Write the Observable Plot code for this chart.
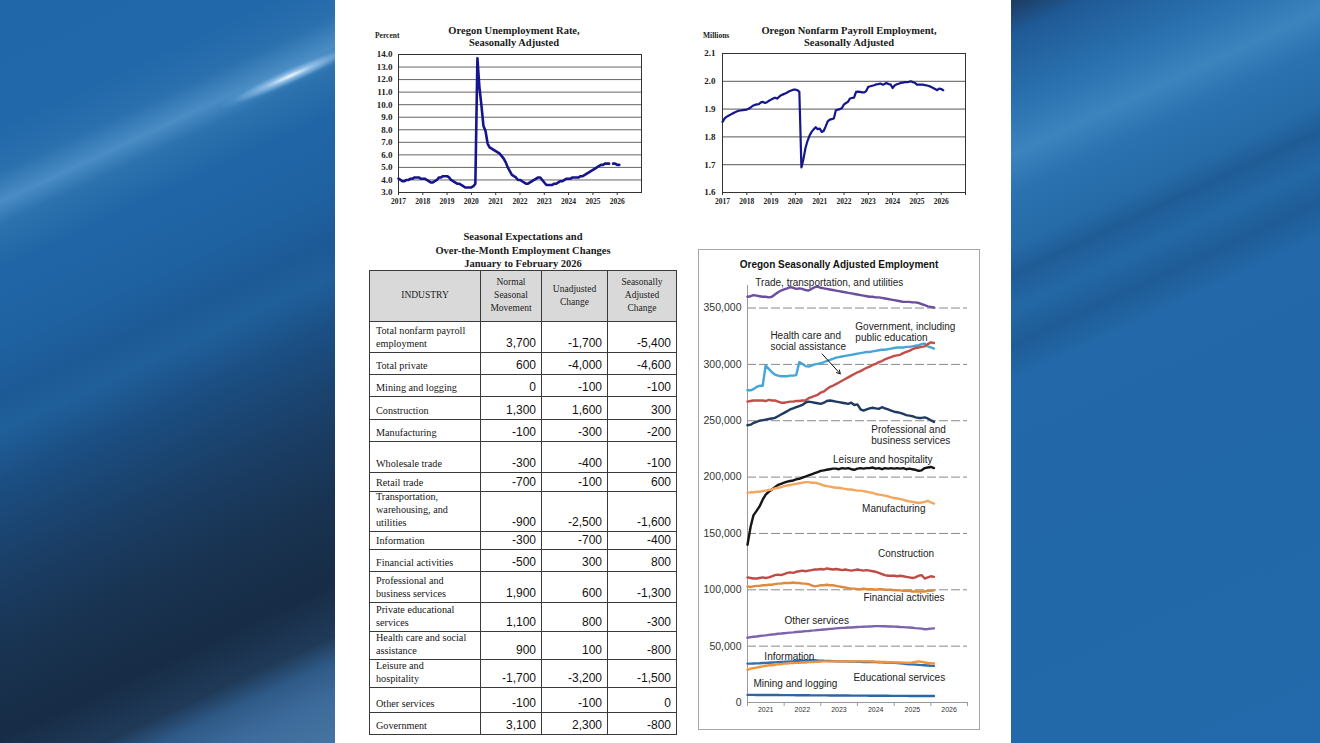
<!DOCTYPE html>
<html>
<head>
<meta charset="utf-8">
<script src="https://cdn.jsdelivr.net/npm/d3@7"></script>
<script src="https://cdn.jsdelivr.net/npm/@observablehq/plot@0.6"></script>
<style>
html, body { margin:0; padding:0; width:1320px; height:743px; overflow:hidden; }
body { position:relative; background:#2168aa; font-family:"Liberation Serif", serif; }
.abs { position:absolute; }
#bgL { left:0; top:0; width:335px; height:743px;
  background: linear-gradient(155deg, #2067a9 0%, #2168aa 14%, #2a70ae 19%, #4a8cc4 22.5%, #2c72ae 25%, #2066a6 30%, #1f62a2 38%, #1c5a96 44%, #1f5f9a 48%, #1b4e82 54%, #1a4470 60%, #1a3b60 66%, #18324f 74%, #172c46 82%, #1f3a58 88%, #2f5a88 91%, #3d6c9c 95%, #4574a2 100%); }
#bgR { left:1011px; top:0; width:309px; height:743px;
  background: linear-gradient(155deg, #1c3b60 0%, #1f5a96 4%, #2a72b0 12%, #3c84be 17.5%, #2a72b0 22%, #256ba8 28%, #1f5c96 31%, #2368a6 35%, #1e5c96 39%, #2368a8 43%, #2168a8 70%, #226aab 100%); }
#flare { left:215px; top:68px; width:150px; height:16px; transform:rotate(-24deg);
  background: radial-gradient(ellipse at center, rgba(255,255,255,0.95) 0%, rgba(190,225,255,0.6) 25%, rgba(120,180,230,0.15) 60%, rgba(0,0,0,0) 75%); }
#page { left:335px; top:0; width:676px; height:743px; background:#fff; }
.ttl { font-family:"Liberation Serif", serif; font-weight:bold; font-size:10.5px; color:#1a1a1a; text-align:center; line-height:11.8px; white-space:nowrap; }
.unit { font-family:"Liberation Serif", serif; font-weight:bold; font-size:7.5px; color:#222; }
#table { left:369px; top:270px; width:308px; display:grid; }
.cell { box-sizing:border-box; border-right:1.5px solid #3a3a3a; border-bottom:1.5px solid #3a3a3a; display:flex; }
.hd { background:#d9d9d9; border-top:1.5px solid #3a3a3a; align-items:center; justify-content:center; text-align:center; font-size:9.5px; line-height:13.2px; color:#222; }
.lab { border-left:1.5px solid #3a3a3a; align-items:flex-end; padding:0 2px 1.5px 6px; font-size:10.2px; line-height:13.2px; color:#151515; white-space:pre-line; }
.num { align-items:flex-end; justify-content:flex-end; padding:0 5px 1.5px 0; font-family:"Liberation Sans", Arial, sans-serif; font-size:12px; line-height:13px; color:#111; }
#box3 { left:698px; top:249px; width:280px; height:479px; border:1px solid #a6a6a6; }
.ttl3 { font-family:"Liberation Sans", Arial, sans-serif; font-weight:bold; font-size:10px; color:#111; white-space:nowrap; }
</style>
</head>
<body>
<div id="bgL" class="abs"></div>
<div id="bgR" class="abs"></div>
<div id="flare" class="abs"></div>
<div id="page" class="abs"></div>

<div class="abs ttl" style="left:414px; top:25px; width:200px;">Oregon Unemployment Rate,<br>Seasonally Adjusted</div>
<div class="abs unit" style="left:375px; top:31px;">Percent</div>
<div class="abs ttl" style="left:749px; top:25px; width:200px;">Oregon Nonfarm Payroll Employment,<br>Seasonally Adjusted</div>
<div class="abs unit" style="left:703px; top:31px;">Millions</div>
<div class="abs ttl" style="left:423px; top:230px; width:200px; line-height:13.7px;">Seasonal Expectations and<br>Over-the-Month Employment Changes<br>January to February 2026</div>

<div id="chart1" class="abs" style="left:360px; top:50px;"></div>
<div id="chart2" class="abs" style="left:690px; top:49px;"></div>
<div id="table" class="abs"></div>
<div id="box3" class="abs"></div>
<div class="abs ttl3" style="left:739px; top:259px; width:200px; text-align:center;">Oregon Seasonally Adjusted Employment</div>
<div id="chart3" class="abs" style="left:698px; top:249px;"></div>

<script>
// ---------------- DATA ----------------
// Oregon unemployment rate, seasonally adjusted, monthly Jan 2017 - Feb 2026 (Oct 2025 not published)
const unemploymentRate = [
  4.1, 4.0, 3.9, 3.9, 4.0, 4.0, 4.1, 4.1, 4.2, 4.2, 4.2, 4.1,
  4.1, 4.1, 4.0, 3.9, 3.8, 3.8, 3.9, 4.0, 4.2, 4.2, 4.3, 4.3,
  4.3, 4.2, 4.0, 3.9, 3.8, 3.7, 3.7, 3.6, 3.5, 3.4, 3.4, 3.4,
  3.4, 3.5, 3.7, 13.7, 11.4, 9.9, 8.3, 7.9, 6.9, 6.6, 6.5, 6.4,
  6.3, 6.2, 6.1, 5.9, 5.7, 5.4, 5.0, 4.7, 4.4, 4.3, 4.2, 4.0,
  4.0, 3.9, 3.8, 3.7, 3.7, 3.8, 3.9, 4.0, 4.1, 4.2, 4.2, 4.0,
  3.8, 3.6, 3.6, 3.6, 3.6, 3.7, 3.7, 3.8, 3.9, 3.9, 4.0, 4.1,
  4.1, 4.1, 4.2, 4.2, 4.2, 4.2, 4.3, 4.3, 4.4, 4.5, 4.6, 4.7,
  4.8, 4.9, 5.0, 5.1, 5.2, 5.2, 5.3, 5.3, 5.3, null, 5.3, 5.3,
  5.2, 5.2
];
// Oregon nonfarm payroll employment (millions), monthly Jan 2017 - Feb 2026
const payrollMillions = [
  1.854, 1.866, 1.872, 1.876, 1.880, 1.884, 1.888, 1.891, 1.894, 1.895, 1.896, 1.897,
  1.898, 1.902, 1.906, 1.912, 1.915, 1.917, 1.918, 1.924, 1.926, 1.922, 1.925, 1.930,
  1.934, 1.938, 1.941, 1.938, 1.944, 1.950, 1.953, 1.956, 1.960, 1.964, 1.967, 1.970,
  1.970, 1.968, 1.962, 1.690, 1.720, 1.760, 1.785, 1.805, 1.818, 1.827, 1.835, 1.828,
  1.830, 1.818, 1.821, 1.838, 1.856, 1.862, 1.864, 1.866, 1.896, 1.898, 1.900, 1.904,
  1.917, 1.922, 1.926, 1.938, 1.940, 1.941, 1.962, 1.963, 1.962, 1.960, 1.960, 1.965,
  1.980, 1.982, 1.984, 1.986, 1.989, 1.990, 1.992, 1.988, 1.990, 1.994, 1.990, 1.989,
  1.976, 1.985, 1.989, 1.991, 1.994, 1.995, 1.997, 1.997, 1.998, 2.000, 1.997, 1.995,
  1.988, 1.988, 1.988, 1.988, 1.986, 1.985, 1.983, 1.980, 1.976, 1.972, 1.968, 1.974,
  1.972, 1.968
];
const urTicks = [3, 4, 5, 6, 7, 8, 9, 10, 11, 12, 13, 14];
const payTicks = [1.6, 1.7, 1.8, 1.9, 2.0, 2.1];
const years1 = [2017, 2018, 2019, 2020, 2021, 2022, 2023, 2024, 2025, 2026];

// Table
const tableHeader = ["INDUSTRY", "Normal\nSeasonal\nMovement", "Unadjusted\nChange", "Seasonally\nAdjusted\nChange"];
const industries = [
  "Total nonfarm payroll\nemployment", "Total private", "Mining and logging", "Construction", "Manufacturing",
  "Wholesale trade", "Retail trade", "Transportation,\nwarehousing, and\nutilities", "Information",
  "Financial activities", "Professional and\nbusiness services", "Private educational\nservices",
  "Health care and social\nassistance", "Leisure and\nhospitality", "Other services", "Government"
];
const normalSeasonal = [3700, 600, 0, 1300, -100, -300, -700, -900, -300, -500, 1900, 1100, 900, -1700, -100, 3100];
const unadjustedChange = [-1700, -4000, -100, 1600, -300, -400, -100, -2500, -700, 300, 600, 800, 100, -3200, -100, 2300];
const seasonallyAdjustedChange = [-5400, -4600, -100, 300, -200, -100, 600, -1600, -400, 800, -1300, -300, -800, -1500, 0, -800];

// Oregon seasonally adjusted employment by industry (thousands), monthly Jan 2021 - Feb 2026
const tradeTransUtil = [
  360, 360.5, 361.5, 361, 360.5, 360, 360, 359.5, 360, 362, 364, 365.5,
  366.5, 367.5, 368.5, 368, 367, 367.5, 367, 366, 365.5, 367, 368.5, 369,
  368, 367.5, 367, 366.5, 366, 365.5, 365, 364.5, 364, 363.5, 363, 362.5,
  362, 361.5, 361, 360.5, 360, 360, 359.5, 359.5, 359, 358.5, 358, 357.5,
  357, 356.5, 356, 355.5, 355.5, 355.5, 355, 355, 354.5, 353.5, 352.5, 351.5,
  351, 350.5
];
const government = [
  277, 277, 278, 280, 281, 281, 299, 296, 293, 291, 290, 289.5,
  289.5, 289.5, 290, 290, 290.5, 302, 300.5, 298.5, 298, 299, 300, 300.5,
  301, 302, 303, 304, 305, 306, 306.5, 307, 307.5, 308, 308.5, 309,
  309.5, 310, 310.5, 311, 311, 311.5, 312, 312.5, 313, 313, 313.5, 314,
  314.5, 315, 315, 315, 315.5, 315.5, 316, 316.5, 317, 318, 318.5, 316,
  315, 314
];
const healthCare = [
  267, 267.5, 268, 268, 268, 268, 267.5, 268.5, 268, 268, 267, 266,
  266, 266.5, 267, 267, 267.5, 267.5, 268, 268, 270, 271, 272, 273,
  275, 276, 278, 280, 281, 282.5, 284, 285.5, 287, 288.5, 290, 291.5,
  293, 294, 295.5, 297, 298, 299.5, 300.5, 302, 303, 304.5, 305.5, 306.5,
  307.5, 308, 308.5, 310, 311, 312, 313.5, 314.5, 315, 315.5, 316, 318,
  319.5, 319
];
const professionalBusiness = [
  246, 246.5, 248, 249, 250, 250.5, 251, 251.5, 252, 252.5, 254, 255.5,
  257, 258.5, 260, 261, 262, 263, 264, 266, 267, 266.5, 266, 265.5,
  265, 266, 267.5, 268, 267.5, 267, 266.5, 266, 265.5, 265, 266, 264,
  264.5, 260, 259, 260, 261, 261.5, 261, 260.5, 262, 261, 260, 259,
  258, 257.5, 257, 256, 255, 254.5, 254, 253, 252.5, 252.5, 253, 252,
  250.5, 249
];
const leisureHospitality = [
  140, 156, 166, 170, 174, 180, 184.5, 187, 189, 191, 193, 194,
  195, 196, 196.5, 197, 198, 198.5, 199.5, 200.5, 201.5, 202.5, 203.5, 204.5,
  205.5, 206, 206.5, 207, 207.5, 207.5, 207, 208, 207.5, 208, 207, 206.5,
  207.5, 208, 207.5, 208, 208, 208.5, 207.5, 208, 207, 208, 207.5, 208,
  207.5, 208, 207.5, 208, 207, 207.5, 207, 206.5, 205.5, 206, 208, 208.5,
  209, 208
];
const manufacturing = [
  186, 186.5, 186.5, 187, 187, 187.5, 188, 188.5, 189, 190, 190.5, 191,
  192, 192.5, 193, 193.5, 194, 194.5, 195, 195.5, 195.5, 195, 195, 194.5,
  193.5, 192.5, 192, 191.5, 191, 190.5, 190.5, 190, 189.5, 189, 189, 188.5,
  188, 188, 187.5, 187, 186.5, 186, 185, 184.5, 184, 183.5, 183, 182,
  181.5, 181, 180.5, 180, 179, 178.5, 178, 177.5, 177, 177.5, 178, 179,
  177.5, 176.5
];
const construction = [
  111, 110.5, 110, 110, 110.5, 111, 110.5, 111, 112, 113, 113.5, 113,
  114, 115, 115.5, 115, 116, 116.5, 117, 116.5, 117, 117.5, 118, 118,
  118.5, 118, 119, 118.5, 118, 118.5, 118, 117.5, 118, 117.5, 117, 117.5,
  118, 117.5, 117, 117.5, 117, 116.5, 116, 115, 114, 113, 112.5, 112.5,
  112.5, 112, 112.5, 112, 111.5, 111, 110.5, 111, 112.5, 113, 110, 111,
  112, 111.5
];
const financialActivities = [
  103, 102.5, 103, 103.5, 103.5, 104, 104, 104.5, 104.5, 105, 105.5, 105.5,
  106, 106, 106, 106.5, 106, 106, 105.5, 105.5, 105, 104, 103, 103.5,
  104, 104, 104.5, 104, 104, 103.5, 103, 102.5, 102, 101.5, 101, 101,
  100.5, 100.5, 101, 100.5, 100.5, 100.5, 100, 100.5, 100.5, 100, 100, 100,
  99.5, 99.5, 99.5, 99, 99, 99, 98.5, 98.5, 98.5, 98.5, 98.5, 99,
  99, 99.5
];
const otherServices = [
  57.5, 58, 58.3, 58.6, 59, 59.3, 59.6, 60, 60.3, 60.6, 61, 61.2,
  61.5, 61.8, 62, 62.2, 62.5, 62.8, 63, 63.3, 63.5, 63.8, 64, 64.3,
  64.5, 64.8, 65, 65.3, 65.5, 65.8, 66, 66.2, 66.3, 66.5, 66.6, 66.8,
  67, 67.1, 67.2, 67.3, 67.5, 67.6, 67.8, 67.8, 67.7, 67.6, 67.5, 67.4,
  67.3, 67.2, 67, 66.9, 66.7, 66.5, 66.3, 66, 65.8, 65.5, 65, 65.2,
  65.5, 65.8
];
const information = [
  34.5, 34.5, 34.6, 34.7, 34.8, 35, 35.1, 35.3, 35.5, 35.6, 35.8, 36,
  36.1, 36.3, 36.5, 36.6, 36.8, 37, 37, 37.2, 37.3, 37.5, 37.5, 37.3,
  37.2, 37, 36.9, 36.8, 36.7, 36.6, 36.5, 36.5, 36.5, 36.4, 36.3, 36.3,
  36.2, 36.1, 36, 36, 36, 35.9, 35.8, 35.7, 35.6, 35.5, 35.5, 35.4,
  35.2, 35, 34.8, 34.5, 34.2, 34, 33.8, 33.6, 33.4, 33.2, 33, 32.8,
  32.6, 32.5
];
const educationalServices = [
  29, 30, 30.5, 31, 31.5, 32, 32.5, 33, 33, 33.5, 34, 34,
  34.5, 34.5, 35, 35, 35.2, 35.3, 35.5, 35.5, 35.8, 36, 36, 36.2,
  36.3, 36.5, 36.5, 36.5, 36.5, 36.6, 36.5, 36.6, 36.5, 36.6, 36.5, 36.5,
  36.6, 36.5, 36.5, 36.6, 36.5, 36.4, 36.3, 36.2, 36, 36, 35.8, 35.8,
  35.6, 35.5, 35.5, 35.4, 35.3, 35.2, 35.5, 36, 36.5, 36, 35.5, 35,
  34.8, 34.6
];
const miningLogging = [
  6.8, 6.8, 6.8, 6.7, 6.7, 6.7, 6.7, 6.6, 6.6, 6.6, 6.6, 6.5,
  6.5, 6.5, 6.5, 6.5, 6.4, 6.4, 6.4, 6.4, 6.4, 6.3, 6.3, 6.3,
  6.3, 6.3, 6.3, 6.2, 6.2, 6.2, 6.2, 6.2, 6.2, 6.2, 6.1, 6.1,
  6.1, 6.1, 6.1, 6.1, 6.0, 6.0, 6.0, 6.0, 6.0, 6.0, 6.0, 5.9,
  5.9, 5.9, 5.9, 5.9, 5.9, 5.8, 5.8, 5.8, 5.8, 5.8, 5.8, 5.8,
  5.8, 5.8
];
const industrySeries = [
  ["Trade, transportation, and utilities", tradeTransUtil],
  ["Government", government],
  ["Health care and social assistance", healthCare],
  ["Professional and business services", professionalBusiness],
  ["Leisure and hospitality", leisureHospitality],
  ["Manufacturing", manufacturing],
  ["Construction", construction],
  ["Financial activities", financialActivities],
  ["Other services", otherServices],
  ["Information", information],
  ["Educational services", educationalServices],
  ["Mining and logging", miningLogging]
];
const empTicks = [0, 50000, 100000, 150000, 200000, 250000, 300000, 350000];
const years3 = [2021, 2022, 2023, 2024, 2025, 2026];

// ---------------- STYLE / ANNOTATION CONFIG ----------------
const seriesColors = {
  "Trade, transportation, and utilities": "#6b4e9e",
  "Government": "#47a6d6",
  "Health care and social assistance": "#c24e49",
  "Professional and business services": "#1f3b62",
  "Leisure and hospitality": "#151515",
  "Manufacturing": "#f4a65e",
  "Construction": "#bf4a46",
  "Financial activities": "#df8a3e",
  "Other services": "#7d62ae",
  "Information": "#2f70b2",
  "Educational services": "#f39339",
  "Mining and logging": "#2b67a5"
};
const utc = (y, m, d = 1) => new Date(Date.UTC(y, m, d));
const seriesLabels = [
  {text: "Trade, transportation, and utilities", date: utc(2021, 2, 20), value: 373000},
  {text: "Government, including\npublic education", date: utc(2023, 11, 11), value: 329000},
  {text: "Health care and\nsocial assistance", date: utc(2021, 7, 17), value: 320900},
  {text: "Professional and\nbusiness services", date: utc(2024, 4, 18), value: 237300},
  {text: "Leisure and hospitality", date: utc(2023, 4, 3), value: 215500},
  {text: "Manufacturing", date: utc(2024, 1, 16), value: 172300},
  {text: "Construction", date: utc(2024, 6, 24), value: 132300},
  {text: "Financial activities", date: utc(2024, 2, 1), value: 93000},
  {text: "Other services", date: utc(2022, 0, 4), value: 72500},
  {text: "Information", date: utc(2021, 5, 18), value: 40800},
  {text: "Educational services", date: utc(2023, 10, 22), value: 21900},
  {text: "Mining and logging", date: utc(2021, 2, 1), value: 16600}
];
const healthArrow = [{x1: utc(2023, 0, 14), y1: 309300, x2: utc(2023, 6, 14), y2: 291600}];

// ---------------- CHART 1: Unemployment ----------------
const urData = unemploymentRate.map((v, i) => ({date: utc(2017, i), value: v}));
const payData = payrollMillions.map((v, i) => ({date: utc(2017, i), value: v}));
const yearDates1 = years1.map(y => utc(y, 0));
const serifStyle = {fontFamily: "Liberation Serif, serif", fontWeight: "bold", color: "#222", background: "transparent", overflow: "visible"};

const chart1 = Plot.plot({
  width: 290, height: 160,
  marginLeft: 38, marginRight: 9, marginTop: 4, marginBottom: 18,
  style: serifStyle,
  x: {type: "utc", domain: [utc(2017, 0), utc(2027, 0)], label: null},
  y: {domain: [3, 14], label: null},
  marks: [
    Plot.gridY(urTicks.slice(1, -1), {stroke: "#555", strokeOpacity: 1, strokeWidth: 0.9}),
    Plot.frame({stroke: "#333", strokeWidth: 1}),
    Plot.axisX({ticks: yearDates1, tickSize: 3, tickPadding: 3, tickFormat: "%Y", fontSize: 7.5, stroke: "#333", label: null}),
    Plot.axisY({ticks: urTicks, tickSize: 0, tickPadding: 6, tickFormat: d => d.toFixed(1), fontSize: 9, label: null}),
    Plot.lineY(urData, {x: "date", y: "value", stroke: "#16168c", strokeWidth: 2.6})
  ]
});
document.getElementById("chart1").appendChild(chart1);

// ---------------- CHART 2: Payroll ----------------
const chart2 = Plot.plot({
  width: 290, height: 160,
  marginLeft: 32, marginRight: 15, marginTop: 4, marginBottom: 17,
  style: serifStyle,
  x: {type: "utc", domain: [utc(2017, 0), utc(2027, 0)], label: null},
  y: {domain: [1.6, 2.1], label: null},
  marks: [
    Plot.gridY(payTicks.slice(1, -1), {stroke: "#444", strokeOpacity: 1, strokeWidth: 0.9}),
    Plot.frame({stroke: "#333", strokeWidth: 1}),
    Plot.axisX({ticks: yearDates1.concat([utc(2027, 0)]), tickSize: 3, tickPadding: 3, tickFormat: d => d.getUTCFullYear() < 2027 ? d3.utcFormat("%Y")(d) : "", fontSize: 7.5, stroke: "#333", label: null}),
    Plot.axisY({ticks: payTicks, tickSize: 0, tickPadding: 7, tickFormat: d => d.toFixed(1), fontSize: 9, label: null}),
    Plot.lineY(payData, {x: "date", y: "value", stroke: "#16168c", strokeWidth: 2.2})
  ]
});
document.getElementById("chart2").appendChild(chart2);

// ---------------- TABLE ----------------
const rowHeights = [31.3, 22, 22, 23, 21.7, 31.3, 18.7, 40, 18.3, 21.7, 31.3, 28.7, 28.3, 28, 25, 22];
const tbl = document.getElementById("table");
tbl.style.gridTemplateColumns = "112px 61px 66px 69px";
tbl.style.gridTemplateRows = ["51.7px"].concat(rowHeights.map(h => h + "px")).join(" ");
const fmt = d3.format(",");
const fmtNum = v => v < 0 ? "-" + fmt(-v) : fmt(v);
tableHeader.forEach((h, j) => {
  const c = document.createElement("div");
  c.className = "cell hd";
  if (j === 0) c.style.borderLeft = "1.5px solid #3a3a3a";
  c.style.whiteSpace = "pre-line";
  c.textContent = h;
  tbl.appendChild(c);
});
industries.forEach((name, i) => {
  const l = document.createElement("div");
  l.className = "cell lab";
  l.textContent = name;
  tbl.appendChild(l);
  [normalSeasonal[i], unadjustedChange[i], seasonallyAdjustedChange[i]].forEach(v => {
    const c = document.createElement("div");
    c.className = "cell num";
    c.textContent = fmtNum(v);
    tbl.appendChild(c);
  });
});

// ---------------- CHART 3: Employment by industry ----------------
const empLines = industrySeries.map(([name, vals]) =>
  Plot.line(vals.map((v, i) => ({date: utc(2021, i), value: v * 1000})),
    {x: "date", y: "value", stroke: seriesColors[name], strokeWidth: 2.4}));
const sansStyle = {fontFamily: "Liberation Sans, Arial, sans-serif", color: "#222", background: "transparent", overflow: "visible"};
const chart3 = Plot.plot({
  width: 282, height: 481,
  marginLeft: 49, marginRight: 13, marginTop: 36, marginBottom: 28,
  style: sansStyle,
  x: {type: "utc", domain: [utc(2021, 0), utc(2027, 0)], label: null},
  y: {domain: [0, 370000], label: null},
  marks: [
    Plot.gridY(empTicks.slice(1), {stroke: "#8a8a8a", strokeOpacity: 1, strokeWidth: 1, strokeDasharray: "9,3"}),
    Plot.ruleX([utc(2021, 0)], {stroke: "#9a9a9a", strokeWidth: 1}),
    Plot.ruleY([0], {stroke: "#9a9a9a", strokeWidth: 1}),
    Plot.axisX({ticks: years3.map(y => utc(y, 0)).concat([utc(2027, 0)]), tickSize: 4, tickFormat: () => "", stroke: "#9a9a9a", label: null}),
    Plot.axisX({ticks: years3.map(y => utc(y, 6)), tickSize: 0, tickPadding: 5, tickFormat: "%Y", fontSize: 7, fill: "#333", label: null}),
    Plot.axisY({ticks: empTicks, tickSize: 0, tickPadding: 6, tickFormat: d3.format(","), fontSize: 10.5, fill: "#333", label: null}),
    ...empLines,
    Plot.text(seriesLabels, {x: "date", y: "value", text: "text", textAnchor: "start", lineAnchor: "middle", lineHeight: 1.1, fontSize: 10, fill: "#222"}),
    Plot.arrow(healthArrow, {x1: "x1", y1: "y1", x2: "x2", y2: "y2", stroke: "#111", strokeWidth: 1, headLength: 6})
  ]
});
document.getElementById("chart3").appendChild(chart3);
</script>
</body>
</html>
